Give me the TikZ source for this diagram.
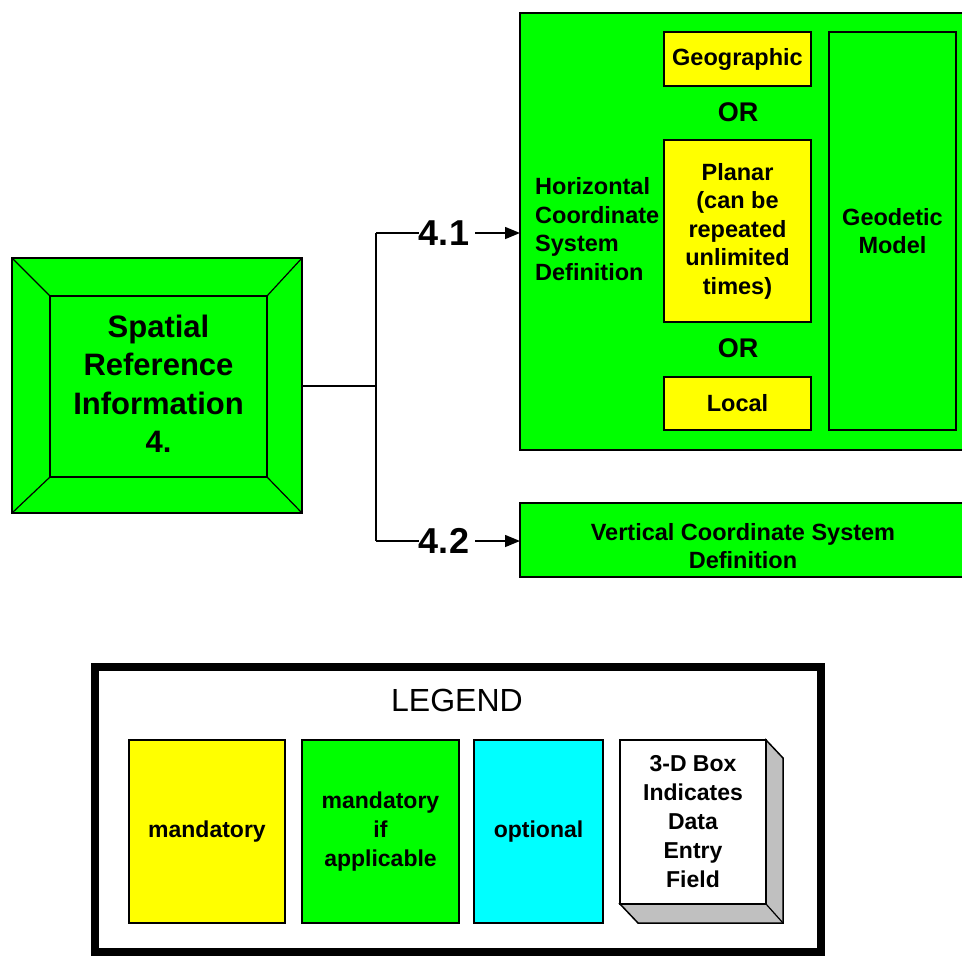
\documentclass[tikz,border=0pt]{standalone}
\usepackage{fontspec}
\setmainfont{Liberation Sans}
\usetikzlibrary{arrows.meta}
\definecolor{boxgreen}{RGB}{0,255,0}
\definecolor{boxyellow}{RGB}{255,255,0}
\definecolor{boxcyan}{RGB}{0,255,255}
\definecolor{sidegray}{RGB}{192,192,192}
\tikzset{
  outline/.style={draw=black, line width=1.5pt},
  greenbox/.style={outline, fill=boxgreen},
  yellowbox/.style={outline, fill=boxyellow},
  cyanbox/.style={outline, fill=boxcyan},
  label/.style={font=\fontsize{23.5}{28.5}\selectfont\bfseries, align=center, inner sep=0pt},
  keytext/.style={label, font=\fontsize{23}{29}\selectfont\bfseries},
  branch/.style={font=\fontsize{36}{40}\selectfont\bfseries, inner sep=0pt, fill=white},
  wire/.style={draw=black, line width=1.5pt},
  arrowwire/.style={wire, -{Triangle[length=15pt,width=12pt]}},
}
\begin{document}
\begin{tikzpicture}[x=1pt, y=-1pt]
\useasboundingbox (0,0) rectangle (962,956);
\fill[white] (0,0) rectangle (962,956);

% root: bevelled box
\path[greenbox] (12,258) rectangle (302,513);
\path[outline] (50,296) rectangle (267,477);
\draw[line width=1.2pt] (12,258) -- (50,296) (302,258) -- (267,296)
  (12,513) -- (50,477) (302,513) -- (267,477);
\node[label, font=\fontsize{31}{38.5}\selectfont\bfseries] (root) at (158.5,384)
  {Spatial\\Reference\\Information\\4.};

% horizontal and vertical coordinate system definitions
\begin{scope}
\clip (0,0) rectangle (962,956);
\path[greenbox] (520,13) rectangle (975,450);
\path[greenbox] (520,503) rectangle (975,577);
\end{scope}
\coordinate (horiz) at (520,233);
\coordinate (vert) at (520,541);
\node[label, align=left, anchor=west] (htext) at (535,229)
  {Horizontal\\Coordinate\\System\\Definition};
\node[yellowbox, minimum width=147pt, minimum height=54pt, label] (geo) at (737.5,59) {Geographic};
\node[font=\fontsize{27}{30}\selectfont\bfseries, inner sep=0pt] (or1) at (738,112) {OR};
\node[yellowbox, minimum width=147pt, minimum height=182pt, label] (planar) at (737.5,231)
  {Planar\\(can be\\repeated\\unlimited\\times)};
\node[font=\fontsize{27}{30}\selectfont\bfseries, inner sep=0pt] (or2) at (738,348) {OR};
\node[yellowbox, minimum width=147pt, minimum height=53pt, label] (local) at (737.5,403.5) {Local};
\node[greenbox, minimum width=127pt, minimum height=398pt, label] (geod) at (892.5,231)
  {Geodetic\\Model};
\node[label] (vtext) at (743,546) {Vertical Coordinate System\\Definition};

% connectors
\coordinate (fork) at (376,386);
\draw[wire] (302,386) -- (fork);
\draw[wire] (376,233) -- (376,541);
\node[branch] (b1) at (444,233) {4.1};
\node[branch] (b2) at (444,541) {4.2};
\draw[wire] (376,233) -- (b1.west);
\draw[arrowwire] (b1.east) ++(6,0) -- (horiz);
\draw[wire] (376,541) -- (b2.west);
\draw[arrowwire] (b2.east) ++(6,0) -- (vert);

% legend
\draw[line width=8pt] (95,667) rectangle (821,952);
\node[font=\fontsize{32}{36}\selectfont, inner sep=0pt] (legend) at (457,700) {LEGEND};
\node[yellowbox, minimum width=156pt, minimum height=183pt, keytext] (lmand) at (207,831.5) {mandatory};
\node[greenbox, minimum width=157pt, minimum height=183pt, keytext] (lif) at (380.5,831.5) {mandatory\\if\\applicable};
\node[cyanbox, minimum width=129pt, minimum height=183pt, keytext] (lopt) at (538.5,831.5) {optional};
% 3-D box: side faces first, then the front
\path[outline, fill=sidegray] (766,740) -- (783,758) -- (783,923) -- (638,923) -- (620,904) -- (766,904) -- cycle;
\draw[line width=1.2pt] (766,904) -- (783,923);
\node[outline, fill=white, minimum width=146pt, minimum height=164pt, keytext] (l3d) at (693,822)
  {3-D Box\\Indicates\\Data\\Entry\\Field};
\end{tikzpicture}
\end{document}
